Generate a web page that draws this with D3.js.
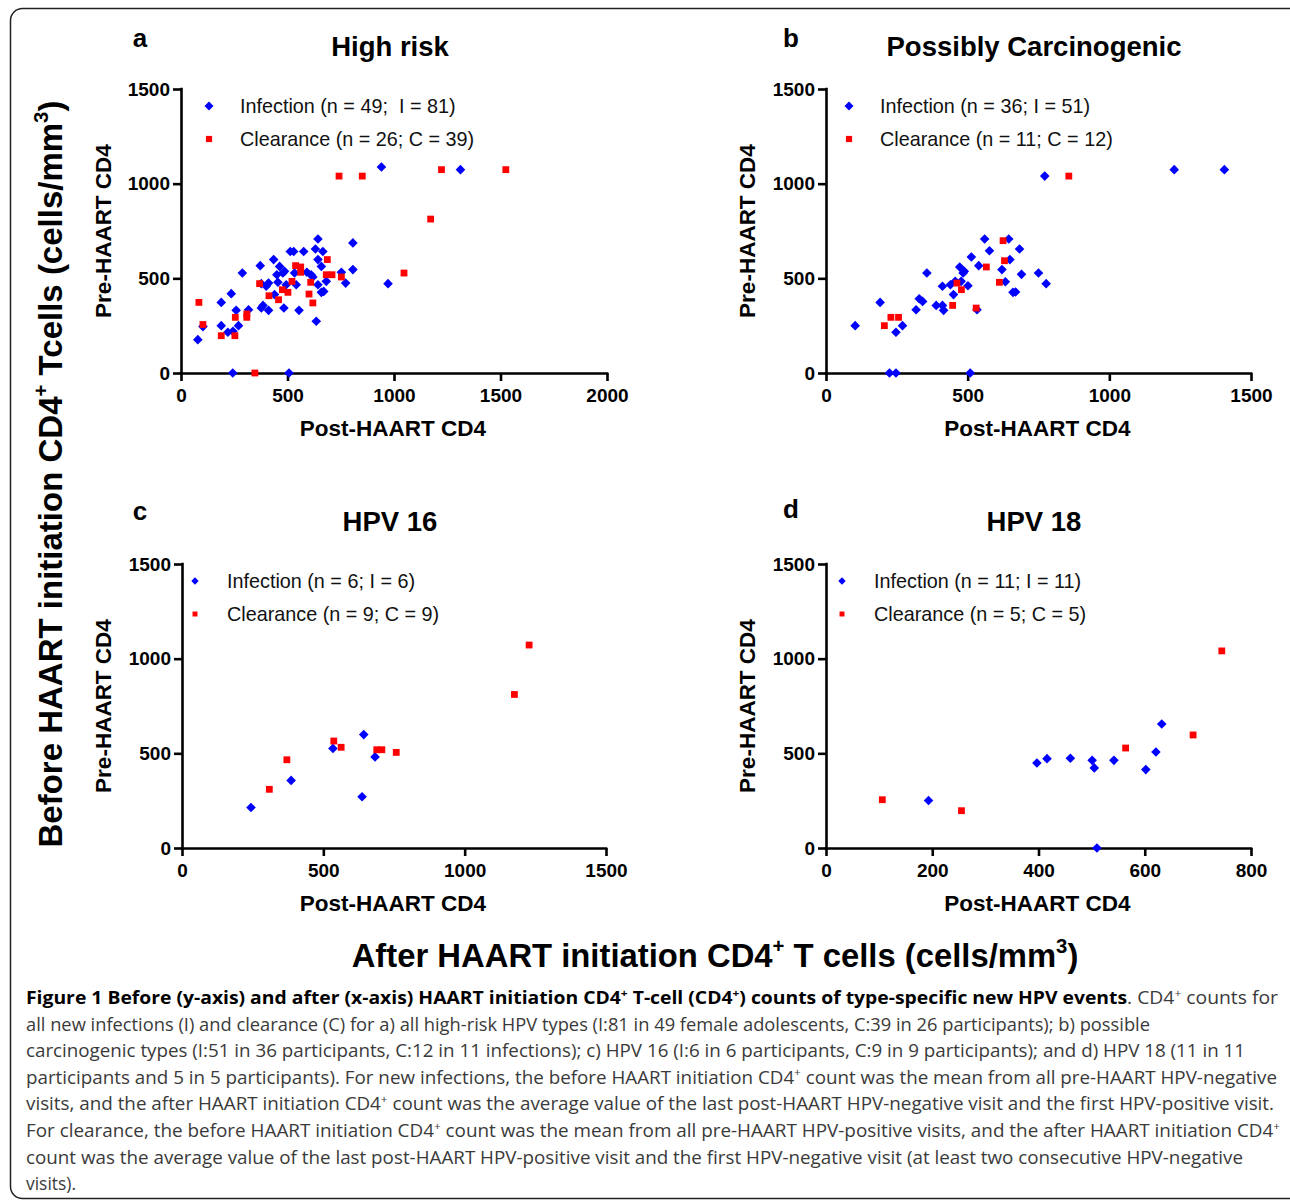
<!DOCTYPE html>
<html>
<head>
<meta charset="utf-8">
<script src="https://cdn.jsdelivr.net/npm/d3@7"></script>
<style>
  html, body { margin: 0; padding: 0; background: #fff; }
  svg { display: block; }
  .arial { font-family: "Liberation Sans", Arial, Helvetica, sans-serif; }
  .cap { font-family: "Open Sans", "Noto Sans", sans-serif; }
</style>
</head>
<body>
<svg id="chart" width="1290" height="1201"></svg>
<script>
// ---------------- DATA ----------------
// Panel a: High risk  [post-HAART CD4, pre-HAART CD4]
const highRiskInfection = [
  [79,176],[103,245],[189,373],[189,250],[236,419],[220,215],[244,220],[259,331],[270,250],
  [288,528],[317,334],[372,567],[377,472],[377,343],[385,357],[400,458],[411,475],[411,331],
  [435,599],[439,414],[450,519],[455,479],[463,563],[478,528],[486,537],[483,343],[494,466],
  [513,642],[529,642],[533,528],[541,466],[554,331],[576,642],[591,532],[611,519],[619,507],
  [631,655],[643,708],[643,599],[635,273],[643,466],[659,563],[666,642],[659,426],[670,431],
  [682,484],[753,532],[773,475],[807,687],[807,546],[941,1088],[972,472],[1312,1074],
  [243,0],[507,0]
];
const highRiskClearance = [
  [84,373],[103,256],[189,197],[253,197],[255,294],[309,312],[309,294],[347,0],[369,472],
  [413,408],[458,387],[476,440],[502,426],[521,484],[538,567],[562,560],[562,532],[601,417],
  [609,479],[619,370],[687,599],[682,519],[709,519],[753,507],[742,1040],[851,1040],
  [1047,528],[1172,813],[1223,1074],[1525,1074]
];
// Panel b: Possibly Carcinogenic
const possCarcInfection = [
  [103,250],[191,373],[247,215],[270,250],[318,334],[329,392],[341,378],[356,528],[389,357],
  [411,357],[415,331],[411,458],[439,466],[450,414],[456,484],[472,560],[477,484],[484,528],
  [488,537],[501,461],[513,613],[533,334],[539,567],[560,708],[577,646],[621,546],[633,482],
  [645,708],[649,599],[660,426],[669,428],[683,655],[690,521],[750,528],[777,472],[772,1040],
  [1229,1074],[1406,1074],[224,0],[247,0],[509,0]
];
const possCarcClearance = [
  [206,250],[229,294],[256,294],[447,357],[462,475],[478,440],[530,343],[566,560],[612,479],
  [625,699],[630,593],[857,1040]
];
// Panel c: HPV 16
const hpv16Infection = [[244,214],[386,357],[534,526],[643,599],[637,271],[683,481]];
const hpv16Clearance = [
  [309,310],[371,466],[537,565],[563,532],[689,519],[707,519],[758,505],[1176,811],[1228,1072]
];
// Panel d: HPV 18
const hpv18Infection = [
  [193,251],[397,449],[416,472],[460,474],[501,463],[505,423],[542,463],[602,414],[621,507],
  [632,655],[510,0]
];
const hpv18Clearance = [[106,255],[255,197],[564,528],[691,597],[745,1041]];

// Tick labels / domains
const yTicks = [0, 500, 1000, 1500];
const xTicksA = [0, 500, 1000, 1500, 2000];
const xTicksB = [0, 500, 1000, 1500];
const xTicksC = [0, 500, 1000, 1500];
const xTicksD = [0, 200, 400, 600, 800];

const panelLetters = ["a", "b", "c", "d"];
const panelTitles = ["High risk", "Possibly Carcinogenic", "HPV 16", "HPV 18"];
const infectionLabels = ["Infection (n = 49;  I = 81)", "Infection (n = 36; I = 51)", "Infection (n = 6; I = 6)", "Infection (n = 11; I = 11)"];
const clearanceLabels = ["Clearance (n = 26; C = 39)", "Clearance (n = 11; C = 12)", "Clearance (n = 9; C = 9)", "Clearance (n = 5; C = 5)"];

// ---------------- LAYOUT ----------------
const svg = d3.select("#chart");
const BLUE = "#0000ff", RED = "#ff0000";

svg.append("rect")
  .attr("x", 10.5).attr("y", 8.5).attr("width", 1300).attr("height", 1190)
  .attr("rx", 12).attr("ry", 12)
  .attr("fill", "none").attr("stroke", "#222").attr("stroke-width", 1.5);

const panels = [
  { x0: 181, x1: 607, y0: 373, y1: 89, xmax: 2000, xt: xTicksA, inf: highRiskInfection, clr: highRiskClearance,
    letterX: 140, letterY: 47, titleX: 390, titleY: 56, legX: 209, legTX: 240, legY: 106, yLabX: 111, mk: 1 },
  { x0: 826, x1: 1251, y0: 373, y1: 89, xmax: 1500, xt: xTicksB, inf: possCarcInfection, clr: possCarcClearance,
    letterX: 791, letterY: 47, titleX: 1034, titleY: 56, legX: 849, legTX: 880, legY: 106, yLabX: 755, mk: 1 },
  { x0: 182, x1: 606, y0: 848, y1: 564, xmax: 1500, xt: xTicksC, inf: hpv16Infection, clr: hpv16Clearance,
    letterX: 140, letterY: 520, titleX: 390, titleY: 531, legX: 195, legTX: 227, legY: 581, yLabX: 111, mk: 0.8 },
  { x0: 826, x1: 1251, y0: 848, y1: 564, xmax: 800, xt: xTicksD, inf: hpv18Infection, clr: hpv18Clearance,
    letterX: 791, letterY: 518, titleX: 1034, titleY: 531, legX: 842, legTX: 874, legY: 581, yLabX: 755, mk: 0.8 }
];

function diamond(g, cx, cy, r, color) {
  g.append("rect")
    .attr("x", -r).attr("y", -r).attr("width", 2 * r).attr("height", 2 * r)
    .attr("transform", `translate(${cx},${cy}) rotate(45)`)
    .attr("fill", color);
}
function square(g, cx, cy, s, color) {
  g.append("rect").attr("x", cx - s / 2).attr("y", cy - s / 2).attr("width", s).attr("height", s).attr("fill", color);
}

panels.forEach((p, i) => {
  const g = svg.append("g").attr("class", "arial");
  const x = d3.scaleLinear().domain([0, p.xmax]).range([p.x0, p.x1]);
  const y = d3.scaleLinear().domain([0, 1500]).range([p.y0, p.y1]);

  g.append("text").attr("x", p.letterX).attr("y", p.letterY).attr("text-anchor", "middle")
    .attr("class", "arial").attr("font-weight", "bold").attr("font-size", 26).text(panelLetters[i]);
  g.append("text").attr("x", p.titleX).attr("y", p.titleY).attr("text-anchor", "middle")
    .attr("class", "arial").attr("font-weight", "bold").attr("font-size", 27.5).text(panelTitles[i]);

  const fmt = d3.format("d");
  const yAxis = d3.axisLeft(y).tickValues(yTicks).tickFormat(fmt).tickSize(8).tickSizeOuter(0).tickPadding(3);
  const xAxis = d3.axisBottom(x).tickValues(p.xt).tickFormat(fmt).tickSize(8).tickSizeOuter(0).tickPadding(8);
  const ya = g.append("g").attr("transform", `translate(${p.x0},0)`).call(yAxis);
  const xa = g.append("g").attr("transform", `translate(0,${p.y0})`).call(xAxis);
  [ya, xa].forEach(a => {
    a.attr("font-family", null);
    a.select(".domain").attr("stroke", "#000").attr("stroke-width", 2.6);
    a.selectAll(".tick line").attr("stroke", "#000").attr("stroke-width", 2.6);
    a.selectAll(".tick text").attr("fill", "#000").attr("class", "arial")
      .attr("font-weight", "bold").attr("font-size", 19);
  });
  ya.select(".domain").attr("d", `M0.5,${p.y0 + 1.3}V${p.y1 - 1.3}`);
  xa.select(".domain").attr("d", `M${p.x0 - 1.3},0.5H${p.x1 + 1.3}`);

  g.append("text").attr("transform", `translate(${p.yLabX},${(p.y0 + p.y1) / 2}) rotate(-90)`)
    .attr("text-anchor", "middle").attr("class", "arial").attr("font-weight", "bold")
    .attr("font-size", 22.5).text("Pre-HAART CD4");
  g.append("text").attr("x", (p.x0 + p.x1) / 2 - 1).attr("y", p.y0 + 63)
    .attr("text-anchor", "middle").attr("class", "arial").attr("font-weight", "bold")
    .attr("font-size", 22.5).text("Post-HAART CD4");

  const pts = g.append("g");
  p.inf.forEach(d => diamond(pts, x(d[0]), y(d[1]), 3.4, BLUE));
  p.clr.forEach(d => square(pts, x(d[0]), y(d[1]), 6.8, RED));

  diamond(g, p.legX, p.legY, 2.9 * p.mk + 0.3, BLUE);
  square(g, p.legX, p.legY + 33, 6.2 * p.mk, RED);
  g.append("text").attr("x", p.legTX).attr("y", p.legY + 7).attr("class", "arial")
    .attr("font-size", 19.8).attr("fill", "#111").attr("xml:space", "preserve").text(infectionLabels[i]);
  g.append("text").attr("x", p.legTX).attr("y", p.legY + 40).attr("class", "arial")
    .attr("font-size", 19.8).attr("fill", "#111").text(clearanceLabels[i]);
});

function rich(textSel, segs, fs) {
  let up = false;
  segs.forEach(s => {
    const t = textSel.append("tspan").text(s.t);
    if (s.b) t.attr("font-weight", "bold");
    if (s.fill) t.attr("fill", s.fill);
    if (s.sup) {
      t.attr("font-size", fs * 0.62).attr("dy", -fs * 0.42);
      up = true;
    } else if (up) {
      t.attr("dy", fs * 0.42);
      up = false;
    }
  });
  return textSel;
}

const bigY = svg.append("text")
  .attr("transform", "translate(62,474) rotate(-90)")
  .attr("text-anchor", "middle").attr("class", "arial").attr("font-weight", "bold")
  .attr("font-size", 33).attr("fill", "#000");
rich(bigY, [{ t: "Before HAART initiation CD4" }, { t: "+", sup: true }, { t: " Tcells (cells/mm" }, { t: "3", sup: true }, { t: ")" }], 33);

const bigX = svg.append("text")
  .attr("x", 715).attr("y", 967)
  .attr("text-anchor", "middle").attr("class", "arial").attr("font-weight", "bold")
  .attr("font-size", 32.8).attr("fill", "#000");
rich(bigX, [{ t: "After HAART initiation CD4" }, { t: "+", sup: true }, { t: " T cells (cells/mm" }, { t: "3", sup: true }, { t: ")" }], 32.8);

const G = "#3a3a3a";
const captionLines = [
  [{ t: "Figure 1 Before (y-axis) and after (x-axis) HAART initiation CD4", b: true, fill: "#000" }, { t: "+", sup: true, b: true, fill: "#000" },
   { t: " T-cell (CD4", b: true, fill: "#000" }, { t: "+", sup: true, b: true, fill: "#000" }, { t: ") counts of type-specific new HPV events", b: true, fill: "#000" },
   { t: ". CD4" }, { t: "+", sup: true }, { t: " counts for" }],
  [{ t: "all new infections (I) and clearance (C) for a) all high-risk HPV types (I:81 in 49 female adolescents, C:39 in 26 participants); b) possible" }],
  [{ t: "carcinogenic types (I:51 in 36 participants, C:12 in 11 infections); c) HPV 16 (I:6 in 6 participants, C:9 in 9 participants); and d) HPV 18 (11 in 11" }],
  [{ t: "participants and 5 in 5 participants). For new infections, the before HAART initiation CD4" }, { t: "+", sup: true }, { t: " count was the mean from all pre-HAART HPV-negative" }],
  [{ t: "visits, and the after HAART initiation CD4" }, { t: "+", sup: true }, { t: " count was the average value of the last post-HAART HPV-negative visit and the first HPV-positive visit." }],
  [{ t: "For clearance, the before HAART initiation CD4" }, { t: "+", sup: true }, { t: " count was the mean from all pre-HAART HPV-positive visits, and the after HAART initiation CD4" }, { t: "+", sup: true }],
  [{ t: "count was the average value of the last post-HAART HPV-positive visit and the first HPV-negative visit (at least two consecutive HPV-negative" }],
  [{ t: "visits)." }]
];
const captionWidths = [1252, 1124, 1219, 1251, 1248, 1254, 1217, 50];
captionLines.forEach((segs, i) => {
  const t = svg.append("text").attr("x", 26).attr("y", 1004 + i * 26.6)
    .attr("class", "cap").attr("font-size", 17.5).attr("fill", G)
    .attr("textLength", captionWidths[i]).attr("lengthAdjust", "spacingAndGlyphs");
  rich(t, segs, 17.5);
});
</script>
</body>
</html>
